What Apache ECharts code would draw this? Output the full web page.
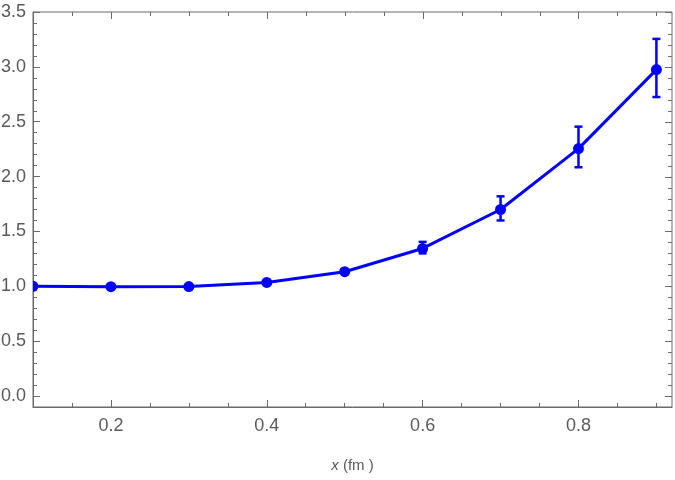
<!DOCTYPE html>
<html>
<head>
<meta charset="utf-8">
<script src="https://cdn.jsdelivr.net/npm/echarts@6/dist/echarts.min.js"></script>
<style>
  html, body { margin: 0; padding: 0; background: #fff; }
  #chart { width: 675px; height: 480px; }
</style>
</head>
<body>
<div id="chart"></div>
<script>
// data
const xs = [0.1, 0.2, 0.3, 0.4, 0.5, 0.6, 0.7, 0.8, 0.9];
const ys = [1.0, 0.997, 0.998, 1.035, 1.133, 1.345, 1.70, 2.255, 2.975];
const errLow = [1.0, 0.997, 0.998, 1.025, 1.115, 1.30, 1.60, 2.085, 2.725];
const errHigh = [1.0, 0.997, 0.998, 1.045, 1.15, 1.405, 1.82, 2.455, 3.255];

const xMajor = [0.2, 0.4, 0.6, 0.8];
const xMinor = [0.15, 0.25, 0.3, 0.35, 0.45, 0.5, 0.55, 0.65, 0.7, 0.75, 0.85, 0.9];
const yMajor = [0, 0.5, 1, 1.5, 2, 2.5, 3, 3.5];
const yMinor = [-0.1, 0.1, 0.2, 0.3, 0.4, 0.6, 0.7, 0.8, 0.9, 1.1, 1.2, 1.3, 1.4,
  1.6, 1.7, 1.8, 1.9, 2.1, 2.2, 2.3, 2.4, 2.6, 2.7, 2.8, 2.9, 3.1, 3.2, 3.3, 3.4];

const xMin = 0.1, xMax = 0.92, yMin = -0.1, yMax = 3.5;
const frame = '#6b6b6b';
const labelColor = '#5a5a5a';
const blue = '#0000ff';
const font = 'Liberation Sans';
const majorLen = 7, minorLen = 4;

function xAx(vals, len, showLabel, showLine) {
  return {
    type: 'value', position: 'bottom', min: xMin, max: xMax,
    axisLine: { show: showLine, onZero: false, lineStyle: { color: frame, width: 1 } },
    axisTick: { show: true, inside: true, length: len, customValues: vals, lineStyle: { color: frame } },
    axisLabel: showLabel ? {
      show: true, customValues: vals, margin: 10, color: labelColor,
      fontFamily: font, fontSize: 18, formatter: v => v.toFixed(1)
    } : { show: false },
    splitLine: { show: false }
  };
}
function yAx(vals, len, showLabel, showLine) {
  return {
    type: 'value', position: 'left', min: yMin, max: yMax,
    axisLine: { show: showLine, onZero: false, lineStyle: { color: frame, width: 1 } },
    axisTick: { show: true, inside: true, length: len, customValues: vals, lineStyle: { color: frame } },
    axisLabel: showLabel ? {
      show: true, customValues: vals, margin: 7, color: labelColor,
      fontFamily: font, fontSize: 18, formatter: v => v.toFixed(1)
    } : { show: false },
    splitLine: { show: false }
  };
}

const xAxes = [xAx(xMajor, majorLen, true, true), xAx(xMinor, minorLen, false, false)];
xAxes[0].name = '{i|x} (fm )';
xAxes[0].nameLocation = 'middle';
xAxes[0].nameGap = 51;
xAxes[0].nameTextStyle = {
  color: labelColor, fontFamily: font, fontSize: 15,
  rich: { i: { fontStyle: 'italic', color: labelColor, fontFamily: font, fontSize: 15 } }
};
const yAxes = [yAx(yMajor, majorLen, true, true), yAx(yMinor, minorLen, false, false)];

// mirrored ticks on the top and right edges of the frame
const topTicks = xMajor.map(v => [v, majorLen]).concat(xMinor.map(v => [v, minorLen]));
const rightTicks = yMajor.map(v => [v, majorLen]).concat(yMinor.map(v => [v, minorLen]));

const points = xs.map((x, i) => [x, ys[i]]);
const errs = xs.map((x, i) => [x, errLow[i], errHigh[i]]);
const tickStyle = { stroke: frame, lineWidth: 1 };

const chart = echarts.init(document.getElementById('chart'));
chart.setOption({
  animation: false,
  grid: {
    left: 33, right: 3, top: 12, bottom: 73, outerBoundsMode: 'none',
    show: true, borderColor: frame, borderWidth: 1, backgroundColor: 'transparent'
  },
  xAxis: xAxes,
  yAxis: yAxes,
  series: [
    {
      type: 'custom',
      silent: true,
      clip: false,
      data: topTicks,
      renderItem: (params, api) => {
        const p = api.coord([api.value(0), yMax]);
        const x = Math.round(p[0]) + 0.5;
        return { type: 'line', shape: { x1: x, y1: p[1], x2: x, y2: p[1] + api.value(1) }, style: tickStyle };
      }
    },
    {
      type: 'custom',
      silent: true,
      clip: false,
      data: rightTicks.map(t => [xMax, t[0], t[1]]),
      renderItem: (params, api) => {
        const p = api.coord([xMax, api.value(1)]);
        const y = Math.round(p[1]) + 0.5;
        return { type: 'line', shape: { x1: p[0], y1: y, x2: p[0] - api.value(2), y2: y }, style: tickStyle };
      }
    },
    {
      type: 'line',
      data: points,
      symbol: 'none',
      clip: true,
      lineStyle: { color: blue, width: 3 }
    },
    {
      type: 'custom',
      data: errs,
      clip: true,
      renderItem: (params, api) => {
        const lo = api.coord([api.value(0), api.value(1)]);
        const hi = api.coord([api.value(0), api.value(2)]);
        const cap = 4;
        const style = { stroke: blue, lineWidth: 2.5 };
        return {
          type: 'group',
          children: [
            { type: 'line', shape: { x1: lo[0], y1: lo[1], x2: hi[0], y2: hi[1] }, style },
            { type: 'line', shape: { x1: lo[0] - cap, y1: lo[1], x2: lo[0] + cap, y2: lo[1] }, style },
            { type: 'line', shape: { x1: hi[0] - cap, y1: hi[1], x2: hi[0] + cap, y2: hi[1] }, style }
          ]
        };
      }
    },
    {
      // point markers, clipped to the frame like the reference
      type: 'custom',
      data: points,
      clip: true,
      renderItem: (params, api) => {
        const p = api.coord([api.value(0), api.value(1)]);
        return { type: 'circle', shape: { cx: p[0], cy: p[1], r: 5.5 }, style: { fill: blue } };
      }
    }
  ]
});
</script>
</body>
</html>
